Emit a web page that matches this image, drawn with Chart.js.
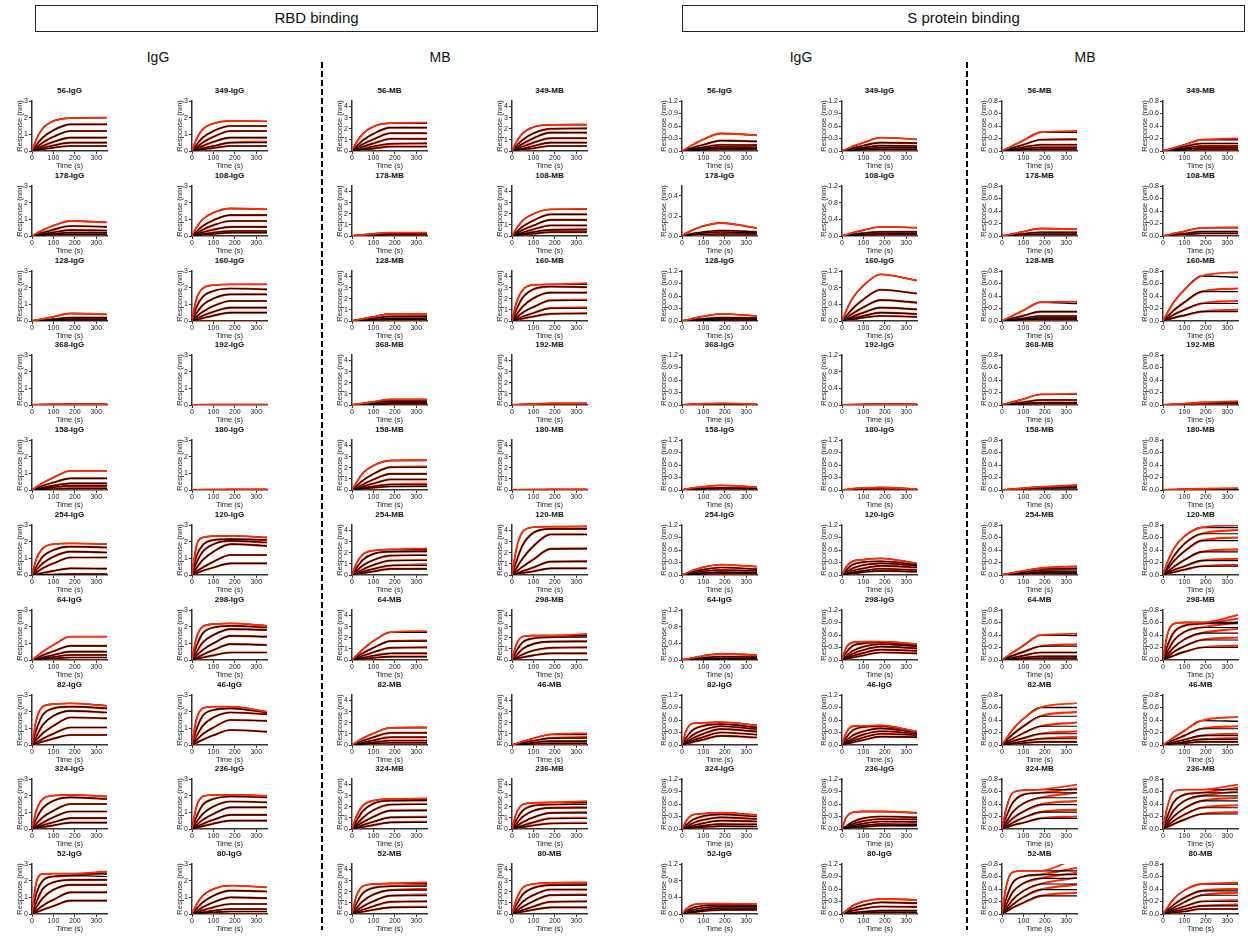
<!DOCTYPE html>
<html>
<head>
<meta charset="utf-8">
<script src="https://cdn.jsdelivr.net/npm/chart.js@4"></script>
<style>
  body { margin: 0; background: #fff; font-family: "Liberation Sans", Arial, sans-serif; }
  #page { position: relative; width: 1248px; height: 937px; overflow: hidden; }
  .box { position: absolute; border: 1.5px solid #222; box-sizing: border-box; text-align: center; font-size: 15px; line-height: 23px; color: #111; }
  .head { position: absolute; font-size: 14px; color: #111; transform: translateX(-50%); }
  .dash { position: absolute; width: 2px; background: repeating-linear-gradient(to bottom, #000 0 6px, transparent 6px 9px); }
  .ptitle { position: absolute; width: 80px; text-align: center; font-weight: bold; font-size: 8px; line-height: 10px; color: #111; }
  canvas { position: absolute; }
</style>
</head>
<body>
<div id="page"></div>
<script>
// association / dissociation sample times (s)
const times = [0, 20, 50, 100, 180, 350];
const timeTicks = [0, 100, 200, 300];

// antibody ids, two panels per row
const rowIds = [['56','349'],['178','108'],['128','160'],['368','192'],['158','180'],
                ['254','120'],['64','298'],['82','46'],['324','236'],['52','80']];

// each curve: response at t=20,50,100,180,350 (fit) and optional measured value at 350
const rbdIgG = {
  '56': [[0.7,1.35,1.8,1.97,2.0],[0.35,0.8,1.25,1.6,1.6],[0.2,0.5,0.85,1.2,1.2],[0.12,0.3,0.55,0.8,0.8],[0.07,0.18,0.33,0.5,0.5],[0.04,0.1,0.2,0.3,0.3]],
  '349': [[0.7,1.3,1.65,1.8,1.78],[0.35,0.8,1.2,1.5,1.5],[0.2,0.5,0.85,1.2,1.2],[0.12,0.3,0.55,0.8,0.8],[0.06,0.16,0.3,0.5,0.5,0.55],[0.04,0.1,0.18,0.3,0.3]],
  '178': [[0.15,0.35,0.62,0.9,0.82],[0.08,0.2,0.38,0.6,0.55],[0.05,0.12,0.22,0.35,0.33],[0.03,0.07,0.13,0.2,0.2],[0.02,0.04,0.07,0.1,0.1]],
  '108': [[0.5,1.0,1.4,1.65,1.6],[0.25,0.6,0.95,1.25,1.25],[0.15,0.38,0.65,0.9,0.9],[0.08,0.22,0.38,0.55,0.55],[0.05,0.12,0.2,0.3,0.3],[0.03,0.07,0.12,0.2,0.2]],
  '128': [[0.05,0.13,0.25,0.45,0.4],[0.02,0.06,0.11,0.2,0.2],[0.015,0.04,0.07,0.12,0.12],[0.01,0.02,0.03,0.05,0.05]],
  '160': [[1.3,1.95,2.15,2.2,2.2],[0.8,1.45,1.8,1.95,1.9],[0.45,0.95,1.35,1.6,1.6],[0.25,0.55,0.9,1.2,1.2],[0.12,0.32,0.55,0.8,0.8],[0.07,0.17,0.32,0.5,0.5],[0,0,0,0,0]],
  '368': [[0.01,0.02,0.03,0.05,0.05],[0.005,0.01,0.02,0.03,0.03],[0,0.005,0.01,0.01,0.01]],
  '192': [[0.005,0.01,0.015,0.02,0.02],[0,0.005,0.01,0.01,0.01]],
  '158': [[0.18,0.42,0.75,1.15,1.15],[0.1,0.25,0.45,0.7,0.7],[0.06,0.14,0.26,0.4,0.4],[0.04,0.09,0.16,0.25,0.25],[0.02,0.04,0.06,0.1,0.1]],
  '180': [[0.005,0.01,0.02,0.03,0.03],[0,0.005,0.01,0.015,0.015]],
  '254': [[0.95,1.6,1.85,1.9,1.85],[0.5,1.1,1.5,1.7,1.65],[0.3,0.7,1.1,1.4,1.35],[0.15,0.4,0.7,1.05,1.05],[0.05,0.12,0.25,0.4,0.38],[0.01,0.02,0.03,0.05,0.05]],
  '120': [[1.7,2.25,2.33,2.35,2.25],[1.1,1.8,2.1,2.15,2.1],[0.7,1.4,1.85,2.05,1.95],[0.4,0.9,1.4,1.85,1.75],[0.2,0.45,0.8,1.2,1.2],[0.1,0.25,0.45,0.7,0.7]],
  '64': [[0.2,0.5,0.9,1.4,1.4],[0.1,0.28,0.52,0.85,0.85],[0.06,0.15,0.3,0.5,0.5],[0.04,0.09,0.18,0.3,0.3],[0.02,0.05,0.09,0.15,0.15]],
  '298': [[1.3,2.0,2.15,2.2,2.05],[0.8,1.6,1.95,2.05,1.95],[0.45,1.05,1.5,1.85,1.8],[0.25,0.6,1.0,1.45,1.4],[0.12,0.32,0.6,0.95,0.9],[0.06,0.15,0.28,0.45,0.45]],
  '82': [[1.5,2.3,2.45,2.5,2.35],[0.9,1.8,2.2,2.3,2.2],[0.5,1.2,1.75,2.05,1.95],[0.3,0.7,1.15,1.65,1.6],[0.15,0.38,0.68,1.05,1.05],[0.08,0.2,0.38,0.6,0.6]],
  '46': [[1.5,2.2,2.3,2.3,2.0],[0.9,1.75,2.1,2.2,1.95],[0.5,1.15,1.65,1.95,1.85],[0.28,0.65,1.05,1.5,1.45],[0.12,0.32,0.58,0.9,0.8]],
  '324': [[1.1,1.8,2.0,2.05,1.95],[0.6,1.25,1.7,1.9,1.8],[0.3,0.7,1.1,1.5,1.5],[0.15,0.38,0.7,1.05,1.05],[0.08,0.22,0.4,0.65,0.65],[0.05,0.12,0.22,0.38,0.38]],
  '236': [[1.3,1.95,2.05,2.05,2.0],[0.7,1.45,1.8,1.95,1.9],[0.4,0.9,1.35,1.65,1.6],[0.22,0.55,0.9,1.3,1.3],[0.12,0.3,0.55,0.85,0.85],[0.06,0.17,0.32,0.5,0.5]],
  '52': [[1.9,2.4,2.42,2.42,2.4,2.55],[1.2,2.0,2.25,2.3,2.25,2.5],[0.7,1.5,1.9,2.05,2.05],[0.4,0.95,1.45,1.75,1.75],[0.2,0.5,0.85,1.3,1.3],[0.1,0.25,0.48,0.8,0.8]],
  '80': [[0.55,1.1,1.5,1.7,1.6],[0.3,0.7,1.1,1.4,1.35],[0.15,0.4,0.7,1.0,0.95],[0.08,0.22,0.4,0.6,0.6],[0.04,0.1,0.2,0.3,0.3],[0.02,0.05,0.1,0.15,0.15]]
};

const rbdMB = {
  '56': [[0.75,1.55,2.2,2.5,2.5,2.55],[0.4,0.95,1.55,2.1,2.1],[0.25,0.6,1.05,1.6,1.6],[0.15,0.38,0.68,1.1,1.1],[0.08,0.2,0.4,0.65,0.65,0.7],[0.05,0.12,0.22,0.4,0.4]],
  '349': [[0.8,1.6,2.15,2.35,2.35,2.4],[0.45,1.0,1.6,2.0,2.0,2.05],[0.28,0.65,1.15,1.65,1.65],[0.15,0.4,0.75,1.15,1.15],[0.08,0.22,0.45,0.75,0.75],[0.05,0.13,0.25,0.45,0.45]],
  '178': [[0.04,0.1,0.2,0.3,0.3],[0.03,0.07,0.13,0.2,0.2],[0.015,0.035,0.07,0.1,0.1]],
  '108': [[0.65,1.4,2.0,2.4,2.4,2.45],[0.35,0.85,1.4,1.95,1.95],[0.22,0.55,0.95,1.45,1.45],[0.12,0.32,0.6,0.95,0.95],[0.07,0.18,0.35,0.55,0.55,0.6],[0.04,0.1,0.2,0.35,0.35]],
  '128': [[0.08,0.2,0.38,0.65,0.65],[0.05,0.13,0.25,0.42,0.42,0.45],[0.03,0.07,0.14,0.25,0.25],[0.015,0.035,0.07,0.12,0.12]],
  '160': [[1.6,2.8,3.25,3.3,3.3,3.4],[1.0,2.1,2.85,3.1,3.05],[0.55,1.3,2.05,2.55,2.55],[0.3,0.75,1.25,1.85,1.85,1.9],[0.15,0.4,0.72,1.15,1.15,1.2],[0.08,0.22,0.4,0.65,0.65,0.7]],
  '368': [[0.06,0.15,0.28,0.5,0.5],[0.04,0.1,0.2,0.35,0.35],[0.025,0.06,0.11,0.2,0.2],[0.01,0.03,0.06,0.1,0.1]],
  '192': [[0.02,0.05,0.09,0.15,0.15],[0.01,0.03,0.06,0.1,0.1]],
  '158': [[0.65,1.5,2.2,2.65,2.65,2.7],[0.35,0.85,1.45,2.05,2.05,2.1],[0.2,0.5,0.95,1.45,1.45],[0.12,0.3,0.58,0.95,0.95],[0.06,0.17,0.32,0.5,0.5,0.55],[0.04,0.1,0.2,0.32,0.32,0.35]],
  '180': [[0.005,0.015,0.03,0.05,0.05],[0,0.005,0.01,0.02,0.02]],
  '254': [[1.0,1.85,2.2,2.3,2.3,2.4],[0.6,1.35,1.9,2.1,2.1,2.15],[0.35,0.85,1.35,1.75,1.75,1.8],[0.2,0.5,0.9,1.3,1.3,1.35],[0.12,0.3,0.55,0.85,0.85,0.95],[0.06,0.17,0.32,0.55,0.55]],
  '120': [[2.3,3.9,4.3,4.35,4.35,4.4],[1.2,2.7,3.8,4.15,4.15],[0.6,1.5,2.6,3.65,3.65],[0.3,0.75,1.4,2.35,2.35,2.4],[0.14,0.35,0.68,1.2,1.2,1.25],[0.07,0.18,0.33,0.6,0.6]],
  '64': [[0.4,0.95,1.7,2.5,2.5,2.6],[0.25,0.6,1.1,1.7,1.7,1.75],[0.15,0.38,0.7,1.1,1.1,1.15],[0.08,0.2,0.38,0.6,0.6],[0.04,0.1,0.19,0.3,0.3]],
  '298': [[1.4,2.1,2.2,2.2,2.2,2.35],[0.8,1.6,1.95,2.05,2.05,2.2],[0.4,1.0,1.45,1.65,1.65,1.7],[0.2,0.5,0.85,1.1,1.1,1.15],[0.1,0.25,0.42,0.6,0.6]],
  '82': [[0.25,0.6,1.05,1.55,1.55,1.6],[0.15,0.38,0.7,1.1,1.1],[0.08,0.22,0.42,0.7,0.7],[0.05,0.12,0.24,0.4,0.4],[0.025,0.06,0.12,0.2,0.2]],
  '46': [[0.12,0.32,0.6,0.95,0.95,1.05],[0.08,0.2,0.38,0.62,0.62,0.7],[0.04,0.11,0.21,0.35,0.35],[0.02,0.05,0.09,0.15,0.15]],
  '324': [[1.1,2.1,2.55,2.7,2.7,2.75],[0.7,1.6,2.3,2.55,2.55,2.6],[0.4,1.0,1.7,2.2,2.2,2.25],[0.25,0.6,1.1,1.65,1.65,1.7],[0.13,0.35,0.65,1.05,1.05,1.1],[0.07,0.18,0.35,0.6,0.6,0.65]],
  '236': [[1.4,2.2,2.35,2.4,2.4,2.5],[0.8,1.65,2.1,2.2,2.2,2.3],[0.45,1.1,1.65,1.9,1.9,1.95],[0.25,0.6,1.05,1.45,1.45,1.5],[0.12,0.32,0.6,0.95,0.95,1.0],[0.06,0.17,0.32,0.5,0.5,0.55]],
  '52': [[1.6,2.5,2.7,2.75,2.75,2.85],[0.9,1.85,2.35,2.5,2.5,2.6],[0.5,1.15,1.75,2.15,2.15,2.25],[0.28,0.68,1.15,1.65,1.65,1.75],[0.15,0.38,0.7,1.1,1.1,1.15],[0.07,0.2,0.38,0.6,0.6,0.65]],
  '80': [[1.3,2.35,2.7,2.8,2.8,2.85],[0.8,1.75,2.35,2.6,2.6,2.65],[0.45,1.1,1.7,2.2,2.2],[0.25,0.65,1.15,1.7,1.7,1.75],[0.14,0.35,0.68,1.1,1.1,1.15],[0.07,0.2,0.38,0.6,0.6]]
};

const sIgG = {
  '56': [[0.06,0.15,0.28,0.42,0.38],[0.03,0.08,0.15,0.25,0.23],[0.02,0.05,0.09,0.15,0.14],[0.012,0.03,0.06,0.1,0.09],[0.008,0.02,0.04,0.06,0.06],[0.004,0.01,0.02,0.03,0.03]],
  '349': [[0.04,0.11,0.2,0.32,0.28],[0.03,0.07,0.13,0.2,0.19],[0.02,0.045,0.08,0.13,0.12],[0.01,0.025,0.05,0.08,0.08],[0.005,0.012,0.025,0.04,0.04]],
  '178': [[0.03,0.06,0.1,0.13,0.08],[0.012,0.025,0.04,0.055,0.04],[0.008,0.018,0.03,0.04,0.03],[0.004,0.01,0.015,0.02,0.02]],
  '108': [[0.03,0.08,0.14,0.22,0.2],[0.015,0.04,0.07,0.1,0.1],[0.01,0.025,0.04,0.06,0.06],[0.005,0.012,0.02,0.03,0.03]],
  '128': [[0.02,0.06,0.11,0.17,0.12],[0.01,0.03,0.05,0.08,0.07],[0.006,0.018,0.03,0.05,0.045],[0.003,0.008,0.014,0.02,0.02]],
  '160': [[0.25,0.55,0.85,1.12,0.97],[0.12,0.3,0.52,0.75,0.66],[0.07,0.18,0.33,0.5,0.44],[0.04,0.11,0.2,0.32,0.28],[0.03,0.07,0.12,0.2,0.17],[0.02,0.04,0.08,0.12,0.1]],
  '368': [[0.01,0.02,0.03,0.04,0.02],[0.005,0.01,0.015,0.02,0.01]],
  '192': [[0.005,0.01,0.015,0.02,0.02],[0.002,0.005,0.008,0.01,0.01]],
  '158': [[0.02,0.05,0.08,0.11,0.07],[0.01,0.025,0.04,0.05,0.04],[0.005,0.012,0.02,0.03,0.025]],
  '180': [[0.01,0.03,0.05,0.06,0.02],[0.005,0.012,0.02,0.03,0.02]],
  '254': [[0.04,0.11,0.19,0.25,0.2],[0.03,0.08,0.13,0.18,0.14],[0.02,0.05,0.09,0.12,0.1],[0.012,0.03,0.05,0.07,0.06],[0.005,0.012,0.02,0.03,0.03]],
  '120': [[0.2,0.33,0.37,0.4,0.28],[0.12,0.25,0.31,0.33,0.25],[0.07,0.16,0.24,0.28,0.22],[0.04,0.1,0.16,0.22,0.18],[0.02,0.06,0.1,0.15,0.12],[0.01,0.04,0.07,0.1,0.08]],
  '64': [[0.02,0.05,0.1,0.15,0.12],[0.01,0.03,0.05,0.08,0.07],[0.005,0.015,0.025,0.04,0.035],[0.003,0.007,0.012,0.02,0.02]],
  '298': [[0.3,0.42,0.44,0.44,0.38],[0.18,0.34,0.4,0.42,0.36],[0.1,0.22,0.32,0.38,0.33],[0.06,0.15,0.24,0.32,0.28],[0.04,0.1,0.17,0.25,0.22],[0.02,0.06,0.11,0.18,0.16]],
  '82': [[0.35,0.52,0.53,0.55,0.47],[0.18,0.36,0.46,0.5,0.42],[0.1,0.24,0.36,0.45,0.38],[0.06,0.16,0.27,0.38,0.32],[0.04,0.11,0.19,0.3,0.25],[0.025,0.07,0.13,0.22,0.18]],
  '46': [[0.3,0.45,0.46,0.47,0.32],[0.18,0.35,0.43,0.45,0.32],[0.1,0.23,0.33,0.4,0.3],[0.06,0.15,0.25,0.33,0.27],[0.04,0.1,0.18,0.27,0.24],[0.02,0.06,0.12,0.2,0.19]],
  '324': [[0.2,0.34,0.37,0.39,0.33],[0.1,0.22,0.31,0.35,0.3],[0.05,0.14,0.22,0.28,0.24],[0.03,0.08,0.14,0.2,0.18],[0.015,0.04,0.08,0.12,0.11],[0.01,0.025,0.045,0.07,0.06]],
  '236': [[0.28,0.4,0.42,0.42,0.39],[0.07,0.17,0.26,0.3,0.28],[0.05,0.12,0.19,0.24,0.23],[0.03,0.08,0.13,0.18,0.17],[0.02,0.05,0.08,0.12,0.11],[0.01,0.03,0.05,0.08,0.08]],
  '52': [[0.12,0.22,0.25,0.25,0.24],[0.07,0.15,0.2,0.22,0.21],[0.04,0.1,0.15,0.18,0.18],[0.02,0.06,0.1,0.14,0.14],[0.015,0.04,0.07,0.1,0.1]],
  '80': [[0.08,0.2,0.3,0.36,0.34],[0.05,0.13,0.21,0.28,0.26],[0.03,0.08,0.13,0.18,0.17],[0.01,0.03,0.05,0.08,0.08],[0.005,0.015,0.025,0.04,0.04]]
};

const sMB = {
  '56': [[0.035,0.085,0.17,0.3,0.3,0.32],[0.02,0.05,0.1,0.18,0.18,0.19],[0.012,0.03,0.06,0.1,0.1],[0.007,0.018,0.035,0.06,0.06],[0.004,0.009,0.018,0.03,0.03]],
  '349': [[0.02,0.05,0.1,0.18,0.18,0.2],[0.015,0.035,0.07,0.12,0.12],[0.01,0.025,0.045,0.08,0.08],[0.006,0.015,0.03,0.05,0.05],[0.003,0.006,0.012,0.02,0.02]],
  '178': [[0.014,0.035,0.07,0.12,0.11],[0.008,0.02,0.035,0.06,0.06],[0.004,0.01,0.018,0.03,0.03]],
  '108': [[0.015,0.04,0.075,0.13,0.13,0.14],[0.008,0.02,0.04,0.07,0.07],[0.005,0.012,0.023,0.04,0.04]],
  '128': [[0.035,0.085,0.17,0.3,0.28,0.31],[0.018,0.045,0.085,0.15,0.15],[0.01,0.025,0.045,0.08,0.08],[0.006,0.015,0.03,0.05,0.05],[0.004,0.009,0.018,0.03,0.03]],
  '160': [[0.13,0.3,0.5,0.72,0.7,0.78],[0.07,0.17,0.3,0.47,0.47,0.52],[0.04,0.1,0.18,0.28,0.28,0.32],[0.02,0.05,0.09,0.15,0.15,0.18]],
  '368': [[0.02,0.05,0.095,0.17,0.17,0.18],[0.01,0.025,0.045,0.08,0.08],[0.005,0.012,0.023,0.04,0.04],[0.003,0.006,0.012,0.02,0.02]],
  '192': [[0.005,0.012,0.022,0.04,0.04,0.06],[0.003,0.006,0.011,0.02,0.02]],
  '158': [[0.006,0.015,0.03,0.05,0.05,0.08],[0.003,0.008,0.015,0.03,0.03,0.05]],
  '180': [[0.003,0.006,0.012,0.02,0.02,0.03],[0.002,0.004,0.008,0.01,0.01,0.02]],
  '254': [[0.014,0.035,0.065,0.11,0.11,0.14],[0.01,0.025,0.045,0.08,0.08,0.1],[0.006,0.015,0.028,0.05,0.05],[0.004,0.009,0.017,0.03,0.03]],
  '120': [[0.2,0.42,0.62,0.76,0.76,0.8],[0.12,0.3,0.5,0.66,0.66,0.72],[0.09,0.22,0.38,0.55,0.55,0.6],[0.05,0.13,0.24,0.37,0.37,0.41],[0.03,0.08,0.14,0.23,0.23,0.26],[0.02,0.045,0.085,0.14,0.14,0.16]],
  '64': [[0.05,0.12,0.23,0.4,0.39,0.42],[0.03,0.07,0.13,0.22,0.22,0.25],[0.015,0.035,0.07,0.12,0.12],[0.008,0.018,0.035,0.06,0.06],[0.004,0.009,0.018,0.03,0.03]],
  '298': [[0.4,0.58,0.6,0.6,0.6,0.72],[0.22,0.44,0.55,0.58,0.58,0.66],[0.13,0.31,0.45,0.52,0.52,0.6],[0.08,0.2,0.33,0.43,0.43,0.5],[0.05,0.13,0.22,0.32,0.32,0.36],[0.03,0.07,0.13,0.2,0.2,0.23]],
  '82': [[0.1,0.25,0.42,0.6,0.6,0.67],[0.07,0.17,0.3,0.46,0.46,0.53],[0.04,0.1,0.19,0.3,0.3,0.36],[0.025,0.06,0.11,0.18,0.18,0.22],[0.012,0.03,0.06,0.1,0.1,0.13],[0.006,0.015,0.03,0.05,0.05]],
  '46': [[0.05,0.12,0.23,0.39,0.38,0.45],[0.03,0.08,0.15,0.26,0.26,0.3],[0.02,0.045,0.085,0.15,0.15,0.18],[0.01,0.025,0.05,0.09,0.09,0.11],[0.006,0.015,0.028,0.05,0.05]],
  '324': [[0.33,0.58,0.62,0.63,0.63,0.71],[0.2,0.42,0.55,0.58,0.58,0.65],[0.11,0.27,0.41,0.5,0.5,0.58],[0.07,0.17,0.28,0.39,0.39,0.45],[0.04,0.1,0.18,0.27,0.27,0.31],[0.02,0.06,0.1,0.17,0.17,0.2]],
  '236': [[0.35,0.6,0.63,0.63,0.63,0.71],[0.2,0.43,0.55,0.58,0.58,0.66],[0.12,0.3,0.45,0.53,0.53,0.6],[0.08,0.2,0.33,0.45,0.45,0.5],[0.05,0.13,0.23,0.34,0.34,0.38],[0.03,0.08,0.15,0.24,0.24,0.27]],
  '52': [[0.45,0.67,0.69,0.69,0.69,0.9],[0.25,0.5,0.6,0.63,0.63,0.74],[0.15,0.35,0.49,0.57,0.57,0.66],[0.09,0.23,0.37,0.48,0.48,0.58],[0.06,0.15,0.27,0.39,0.39,0.47],[0.04,0.1,0.18,0.29,0.29,0.34]],
  '80': [[0.1,0.24,0.38,0.48,0.48,0.5],[0.06,0.15,0.26,0.37,0.37,0.4],[0.04,0.1,0.19,0.3,0.3,0.34],[0.025,0.065,0.12,0.2,0.2,0.22],[0.015,0.04,0.075,0.13,0.13,0.15],[0.008,0.02,0.04,0.08,0.08]]
};

// y-axis range [max, step] per group, with exceptions
const rbdIgGAxis = [3, 1];
const rbdMBAxis = [4.5, 1];
const sIgGAxis = [1.2, 0.3];
const sIgGAxisOther = { '178': [0.5, 0.1], '108': [1.2, 0.4], '160': [1.2, 0.4], '192': [1.2, 0.4], '64': [1.2, 0.4], '52': [1.2, 0.4] };
const sMBAxis = [0.8, 0.2];

Chart.defaults.font.family = '"Liberation Sans", Arial, sans-serif';
Chart.defaults.color = '#222';
Chart.defaults.animation = false;

const page = document.getElementById('page');
const RED = '#ff2a00';

function addDiv(cls, css, text) {
  const d = document.createElement('div');
  d.className = cls;
  Object.assign(d.style, css);
  if (text) d.textContent = text;
  page.appendChild(d);
  return d;
}

// headers
addDiv('box', { left: '35px', top: '5px', width: '563px', height: '27px' }, 'RBD binding');
addDiv('box', { left: '682px', top: '5px', width: '563px', height: '27px' }, 'S protein binding');
addDiv('head', { left: '158px', top: '49px' }, 'IgG');
addDiv('head', { left: '440px', top: '49px' }, 'MB');
addDiv('head', { left: '801px', top: '49px' }, 'IgG');
addDiv('head', { left: '1085px', top: '49px' }, 'MB');
addDiv('dash', { left: '321px', top: '62px', height: '868px' });
addDiv('dash', { left: '966px', top: '62px', height: '868px' });

const plotW = 75, plotH = 50;

function makePanel(title, curves, axisX, plotTop, yW, yMax, yStep, dec) {
  addDiv('ptitle', { left: (axisX + plotW / 2 - 40) + 'px', top: (plotTop - 15) + 'px' }, title);

  const padTop = 6, xH = 19;
  const cv = document.createElement('canvas');
  const w = yW + plotW + 5, h = padTop + plotH + xH + 1;
  cv.width = w; cv.height = h;
  cv.style.left = (axisX - yW) + 'px';
  cv.style.top = (plotTop - padTop) + 'px';
  cv.style.width = w + 'px'; cv.style.height = h + 'px';
  page.appendChild(cv);

  const datasets = [];
  curves.forEach((c, i) => {
    const fit = [0, c[0], c[1], c[2], c[3], c[4]];
    const meas = [0, c[0], c[1], c[2], c[3], c.length > 5 ? c[5] : c[4]];
    const top = i === 0;
    // measured trace (red): on top for the highest curve, a halo under the fit otherwise
    datasets.push({
      data: times.map((t, k) => ({ x: t, y: meas[k] })),
      borderColor: RED, borderWidth: top ? 1.8 : 2.2, order: top ? 0 : 3
    });
    datasets.push({
      data: times.map((t, k) => ({ x: t, y: fit[k] })),
      borderColor: '#000', borderWidth: top ? 1.4 : 1.1, order: 2
    });
  });

  new Chart(cv, {
    type: 'line',
    data: { datasets },
    options: {
      responsive: false,
      devicePixelRatio: 1,
      layout: { padding: { top: padTop, right: 5, left: 0, bottom: 1 } },
      elements: { point: { radius: 0 }, line: { cubicInterpolationMode: 'monotone' } },
      plugins: { legend: { display: false }, tooltip: { enabled: false } },
      scales: {
        x: {
          type: 'linear', min: 0, max: 350,
          afterFit: s => { s.height = xH; },
          afterBuildTicks: s => { s.ticks = timeTicks.map(v => ({ value: v })); },
          grid: { drawOnChartArea: false, tickLength: 3, color: '#333' },
          border: { color: '#333', width: 1.5 },
          ticks: { padding: 0, font: { size: 7 }, maxRotation: 0, autoSkip: false },
          title: { display: true, text: 'Time (s)', font: { size: 7.5 }, padding: 0 }
        },
        y: {
          min: 0, max: yMax,
          afterFit: s => { s.width = yW; },
          grid: { drawOnChartArea: false, tickLength: 3, color: '#333' },
          border: { color: '#333', width: 1.5 },
          ticks: { stepSize: yStep, includeBounds: false, padding: 1, font: { size: 7 },
                   callback: v => v.toFixed(dec) },
          title: { display: true, text: 'Response (nm)', font: { size: 7.5 }, padding: 0 }
        }
      }
    }
  });
}

const groups = [
  { data: rbdIgG, suffix: 'IgG', cols: [32, 192], yW: 17, axis: id => rbdIgGAxis, dec: 0 },
  { data: rbdMB, suffix: 'MB', cols: [352, 512], yW: 17, axis: id => rbdMBAxis, dec: 0 },
  { data: sIgG, suffix: 'IgG', cols: [682, 842], yW: 23, axis: id => sIgGAxisOther[id] || sIgGAxis, dec: 1 },
  { data: sMB, suffix: 'MB', cols: [1002, 1163], yW: 23, axis: id => sMBAxis, dec: 1 }
];

rowIds.forEach((pair, r) => {
  const plotTop = Math.round(101 + 84.8 * r);
  groups.forEach(g => {
    pair.forEach((id, c) => {
      const [yMax, yStep] = g.axis(id);
      makePanel(id + '-' + g.suffix, g.data[id], g.cols[c], plotTop, g.yW, yMax, yStep, g.dec);
    });
  });
});
</script>
</body>
</html>
